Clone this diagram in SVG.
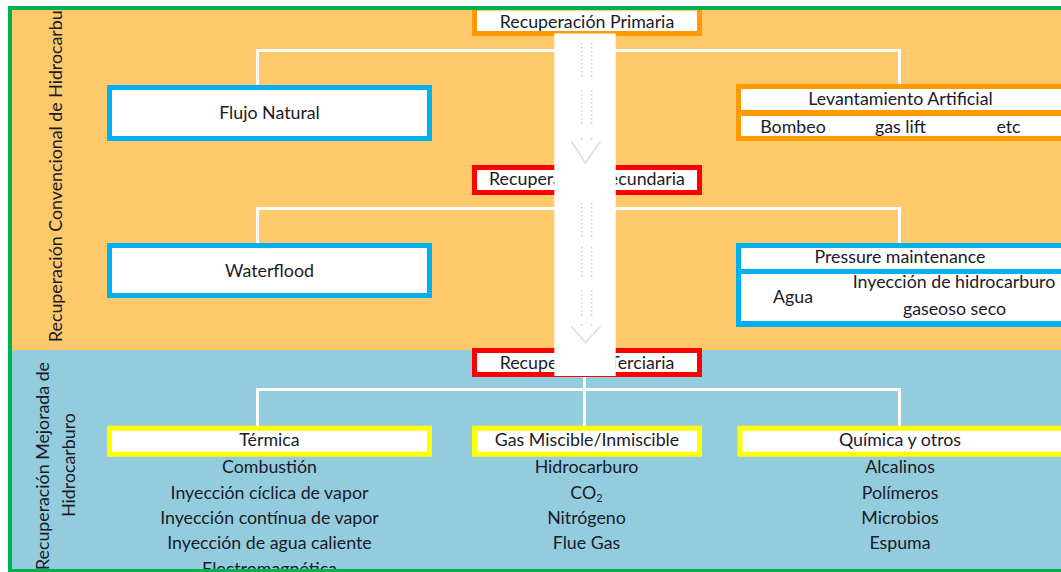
<svg xmlns="http://www.w3.org/2000/svg" width="1061" height="572" viewBox="0 0 1061 572">
  <defs>
    <style>
      text { font-family: Lato, "Open Sans", "Liberation Sans", sans-serif; font-size: 17.8px; fill: #1a1a28; }
      .c { text-anchor: middle; }
      .box { fill: #ffffff; stroke-width: 5; }
      .orange { stroke: #FF9A00; }
      .cyan { stroke: #00B0F0; }
      .red { stroke: #FF0000; }
      .yellow { stroke: #FFFF00; }
      .wire { stroke: #ffffff; stroke-width: 3; fill: none; }
      .ghost { stroke: #c8c8c8; stroke-width: 1.3; fill: none; stroke-dasharray: 1.5 2.5; }
      .ghosthead { stroke: #e2e2e2; stroke-width: 2; fill: none; stroke-linecap: round; stroke-linejoin: round; }
    </style>
    <clipPath id="sheet">
      <rect x="12" y="10" width="1049" height="559"/>
    </clipPath>
  </defs>

  <rect width="1061" height="572" fill="#ffffff"/>

  <g clip-path="url(#sheet)">
    <!-- zone backgrounds -->
    <g id="zones">
      <rect x="12" y="10" width="1049" height="340" fill="#FDC96A"/>
      <rect x="12" y="350" width="1049" height="219" fill="#93CDDD"/>
    </g>

    <!-- side labels of each zone -->
    <g id="zone-labels">
      <text transform="translate(61.5,342) rotate(-90)">Recuperación Convencional de Hidrocarburo</text>
      <text class="c" transform="translate(49.3,466) rotate(-90)">Recuperación Mejorada de</text>
      <text class="c" transform="translate(75,465) rotate(-90)">Hidrocarburo</text>
    </g>

    <!-- connectors -->
    <g id="connectors">
      <path class="wire" d="M257.5,88 V50.5 H899.5 V85"/>
      <path class="wire" d="M257.5,245 V208.5 H899.5 V244"/>
      <path class="wire" d="M584.5,376 V428"/>
      <path class="wire" d="M257.5,428 V389.5 H899.5 V428"/>
    </g>

    <!-- conventional recovery -->
    <g id="primaria">
      <rect class="box orange" x="474.5" y="8" width="225" height="25.5"/>
      <text class="c" x="587" y="28.3">Recuperación Primaria</text>
    </g>
    <g id="flujo-natural">
      <rect class="box cyan" x="109.5" y="87.5" width="320" height="51"/>
      <text class="c" x="269.5" y="119">Flujo Natural</text>
    </g>
    <g id="levantamiento">
      <rect x="736" y="84" width="330" height="57" fill="#FF9A00"/>
      <rect x="741" y="89" width="325" height="21" fill="#ffffff"/>
      <rect x="741" y="116" width="325" height="20" fill="#ffffff"/>
      <text class="c" x="900.5" y="105">Levantamiento Artificial</text>
      <text class="c" x="793" y="133">Bombeo</text>
      <text class="c" x="900.5" y="133">gas lift</text>
      <text class="c" x="1008.5" y="133">etc</text>
    </g>

    <g id="secundaria">
      <rect class="box red" x="474.5" y="167.5" width="225" height="25"/>
      <text class="c" x="587" y="185.3">Recuperación Secundaria</text>
    </g>
    <g id="waterflood">
      <rect class="box cyan" x="109.5" y="245.5" width="320" height="50"/>
      <text class="c" x="269.5" y="276.5">Waterflood</text>
    </g>
    <g id="pressure">
      <rect x="736" y="243" width="330" height="84" fill="#00B0F0"/>
      <rect x="741" y="248" width="325" height="21" fill="#ffffff"/>
      <rect x="741" y="274" width="325" height="47" fill="#ffffff"/>
      <text class="c" x="900" y="263.3">Pressure maintenance</text>
      <text class="c" x="793" y="303">Agua</text>
      <text class="c" x="954" y="288">Inyección de hidrocarburo</text>
      <text class="c" x="954.5" y="315">gaseoso seco</text>
    </g>

    <!-- enhanced recovery -->
    <g id="terciaria">
      <rect class="box red" x="474.5" y="350.5" width="225" height="24"/>
      <text class="c" x="587" y="369">Recuperación Terciaria</text>
    </g>
    <g id="termica">
      <rect class="box yellow" x="109.5" y="428.2" width="320" height="26"/>
      <text class="c" x="269.5" y="446">Térmica</text>
      <text class="c" x="269.5" y="473.3">Combustión</text>
      <text class="c" x="269.5" y="499">Inyección cíclica de vapor</text>
      <text class="c" x="269.5" y="523.5">Inyección contínua de vapor</text>
      <text class="c" x="269.5" y="549">Inyección de agua caliente</text>
      <text class="c" x="269.5" y="574.5">Electromagnética</text>
    </g>
    <g id="gas">
      <rect class="box yellow" x="474.5" y="428.2" width="225" height="26"/>
      <text class="c" x="587" y="446">Gas Miscible/Inmiscible</text>
      <text class="c" x="586.5" y="473.3">Hidrocarburo</text>
      <text class="c" x="586.5" y="499">CO<tspan font-size="11" dy="3">2</tspan></text>
      <text class="c" x="586.5" y="523.5">Nitrógeno</text>
      <text class="c" x="586.5" y="549">Flue Gas</text>
    </g>
    <g id="quimica">
      <rect class="box yellow" x="740" y="428.2" width="330" height="26"/>
      <text class="c" x="900" y="446">Química y otros</text>
      <text class="c" x="900" y="473.3">Alcalinos</text>
      <text class="c" x="900" y="499">Polímeros</text>
      <text class="c" x="900" y="523.5">Microbios</text>
      <text class="c" x="900" y="549">Espuma</text>
    </g>

    <!-- white progression band with faint dashed arrows -->
    <g id="progress-band">
      <rect x="554.3" y="33.5" width="61.4" height="342.5" fill="#ffffff"/>
      <path class="ghost" d="M581.7,43 V78 M591.7,43 V78 M581.7,90 V126 M591.7,90 V126 M581.7,138 V141 M591.7,138 V141"/>
      <path class="ghosthead" d="M571.7,141.7 L585.5,163 L600,141.7"/>
      <path class="ghost" d="M581.7,203 V238 M591.7,203 V238 M581.7,247 V278 M591.7,247 V278 M581.7,290 V317 M591.7,290 V317 M581.7,324 V327 M591.7,324 V327"/>
      <path class="ghosthead" d="M571.7,326.7 L585.5,342.7 L600,326.7"/>
    </g>
  </g>

  <!-- sheet frame -->
  <rect x="10" y="8" width="1100" height="563" fill="none" stroke="#00B050" stroke-width="4"/>
</svg>
